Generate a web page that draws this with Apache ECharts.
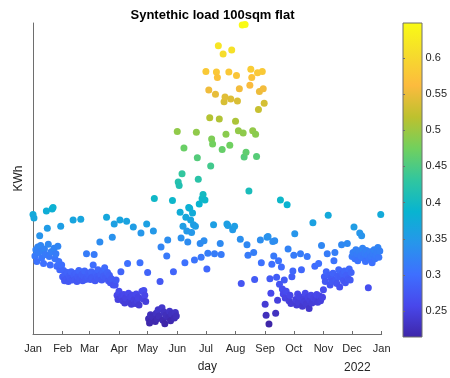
<!DOCTYPE html>
<html>
<head>
<meta charset="utf-8">
<script src="https://cdn.jsdelivr.net/npm/echarts@6/dist/echarts.min.js"></script>
<style>
html,body{margin:0;padding:0;background:#fff;}
#c{width:450px;height:378px;}
</style>
</head>
<body>
<div id="c"></div>
<script>
// Day of year 2021 (0 = 1 Jan) and daily load in KWh
const days = [
0,1,2,3,4,5,6,7,8,9,10,11,12,13,14,15,16,17,18,19,20,21,22,23,24,25,26,27,28,29,30,
31,32,33,34,35,36,37,38,39,40,41,42,43,44,45,46,47,48,49,50,51,52,53,54,55,56,57,58,
59,60,61,62,63,64,65,66,67,68,69,70,71,72,73,74,75,76,77,78,79,80,81,82,83,84,85,86,87,88,89,
90,91,92,93,94,95,96,97,98,99,100,101,102,103,104,105,106,107,108,109,110,111,112,113,114,115,116,117,118,119,
120,121,122,123,124,125,126,127,128,129,130,131,132,133,134,135,136,137,138,139,140,141,142,143,144,145,146,147,148,149,150,
151,152,153,154,155,156,157,158,159,160,161,162,163,164,165,166,167,168,169,170,171,172,173,174,175,176,177,178,179,180,
181,182,183,184,185,186,187,188,189,190,191,192,193,194,195,196,197,198,199,200,201,202,203,204,205,206,207,208,209,211,
212,213,214,215,216,217,218,219,220,221,222,223,224,225,226,227,228,229,230,231,232,233,234,235,236,237,238,239,240,241,242,
243,244,245,246,247,248,249,250,251,252,253,254,255,256,257,258,259,260,261,262,263,264,265,266,267,268,269,270,271,272,
273,274,275,276,277,278,279,280,281,282,283,284,285,286,287,288,289,290,291,292,293,294,295,296,297,298,299,300,301,302,303,
304,305,306,307,308,309,310,311,312,313,314,315,316,317,318,319,320,321,322,323,324,325,326,327,328,329,330,331,332,333,
334,335,336,337,338,339,340,341,342,343,344,345,346,347,348,349,350,351,352,353,354,355,356,357,358,359,360,361,362,363,364
];
const kwh = [
0.373,0.368,0.313,0.322,0.305,0.326,0.318,0.342,0.328,0.310,0.320,0.302,0.323,0.315,0.378,0.353,0.330,0.312,0.300,0.319,0.381,0.383,0.324,0.309,0.316,0.298,0.327,0.305,0.293,0.356,0.300,
0.283,0.292,0.277,0.286,0.280,0.289,0.276,0.284,0.281,0.290,0.278,0.365,0.285,0.279,0.288,0.276,0.283,0.292,0.280,0.366,0.286,0.277,0.284,0.291,0.279,0.316,0.283,0.288,
0.285,0.279,0.290,0.282,0.300,0.315,0.277,0.288,0.283,0.293,0.280,0.333,0.286,0.278,0.291,0.284,0.296,0.281,0.369,0.289,0.277,0.285,0.274,0.280,0.340,0.271,0.359,0.271,0.278,0.256,0.250,
0.262,0.365,0.290,0.255,0.248,0.257,0.245,0.252,0.363,0.302,0.259,0.246,0.254,0.243,0.256,0.355,0.250,0.244,0.258,0.248,0.253,0.242,0.303,0.346,0.262,0.251,0.263,0.256,0.247,0.359,
0.289,0.222,0.216,0.228,0.219,0.225,0.349,0.396,0.218,0.230,0.222,0.235,0.226,0.276,0.326,0.238,0.220,0.232,0.215,0.227,0.313,0.336,0.224,0.233,0.219,0.229,0.393,0.290,0.223,0.231,0.226,
0.493,0.420,0.415,0.376,0.339,0.432,0.356,0.469,0.303,0.369,0.349,0.333,0.383,0.382,0.365,0.347,0.375,0.358,0.307,0.356,0.492,0.455,0.424,0.388,0.331,0.311,0.396,0.402,0.335,0.394,
0.580,0.294,0.317,0.553,0.513,0.443,0.482,0.475,0.358,0.316,0.547,0.579,0.571,0.617,0.511,0.331,0.315,0.467,0.605,0.536,0.543,0.489,0.359,0.357,0.579,0.473,0.540,0.611,0.351,0.356,
0.508,0.574,0.537,0.494,0.555,0.337,0.273,0.647,0.491,0.456,0.648,0.463,0.329,0.314,0.407,0.560,0.583,0.571,0.494,0.318,0.279,0.489,0.457,0.578,0.525,0.551,0.336,0.303,0.580,0.555,0.534,
0.243,0.227,0.340,0.341,0.2145,0.280,0.259,0.301,0.334,0.313,0.335,0.230,0.282,0.249,0.306,0.272,0.394,0.297,0.265,0.258,0.278,0.252,0.262,0.387,0.323,0.248,0.256,0.244,0.283,0.291,
0.314,0.345,0.250,0.242,0.258,0.246,0.254,0.316,0.293,0.240,0.251,0.247,0.259,0.243,0.312,0.253,0.237,0.249,0.256,0.245,0.361,0.252,0.298,0.250,0.257,0.246,0.302,0.255,0.248,0.328,0.253,
0.264,0.283,0.276,0.290,0.316,0.372,0.285,0.271,0.281,0.276,0.288,0.306,0.318,0.279,0.273,0.284,0.293,0.268,0.282,0.329,0.287,0.277,0.291,0.274,0.285,0.331,0.280,0.294,0.278,0.289,
0.312,0.318,0.355,0.309,0.322,0.315,0.306,0.320,0.346,0.313,0.342,0.324,0.310,0.317,0.305,0.321,0.314,0.267,0.308,0.319,0.312,0.303,0.316,0.322,0.309,0.314,0.318,0.325,0.311,0.320,0.373
];
const monthStarts = [0,31,59,90,120,151,181,212,243,273,304,334,365];
const monthNames = ['Jan','Feb','Mar','Apr','May','Jun','Jul','Aug','Sep','Oct','Nov','Dec','Jan'];
const colorTicks = [0.25,0.3,0.35,0.4,0.45,0.5,0.55,0.6];
const parula = ['#3e26a8','#4847eb','#3e6fff','#2796eb','#08b4d0','#31c69f','#71d05e','#bdc12e','#fcbb3e','#f6dc2c','#f9fb14'];

const cMin = Math.min(...kwh), cMax = Math.max(...kwh);
const points = days.map((d,i)=>[d,kwh[i]]);
const FONT = 'Liberation Sans, Arial, Helvetica, sans-serif';
const TXT = '#262626';
const AX = '#6e6e6e';

const chart = echarts.init(document.getElementById('c'), null, {renderer:'canvas'});
chart.setOption({
  animation:false,
  backgroundColor:'#fff',
  title:{text:'Syntethic load 100sqm flat', left:207.5, top:4, textAlign:'center',
    textStyle:{fontFamily:FONT,fontSize:13,fontWeight:'bold',color:'#000'}},
  grid:[
    {left:33, top:23, width:348.7, height:314, containLabel:false},
    {left:403, top:23, width:19, height:314, containLabel:false}
  ],
  xAxis:[
    {type:'value', gridIndex:0, min:0, max:365,
     name:'day', nameLocation:'middle', nameGap:27,
     nameTextStyle:{fontFamily:FONT,fontSize:12,color:TXT},
     axisLine:{show:true,lineStyle:{color:AX,width:1}},
     axisTick:{show:true,inside:true,length:3,customValues:monthStarts,lineStyle:{color:AX}},
     axisLabel:{show:true,customValues:monthStarts,margin:9,fontFamily:FONT,fontSize:11,color:TXT,
       formatter:(v)=>monthNames[monthStarts.indexOf(Math.round(v))] || ''},
     splitLine:{show:false}},
    {type:'value', gridIndex:1, min:0, max:1, show:false}
  ],
  yAxis:[
    {type:'value', gridIndex:0, min:0.2, max:0.65,
     name:'KWh', nameLocation:'middle', nameGap:8, nameRotate:90,
     nameTextStyle:{fontFamily:FONT,fontSize:12,color:TXT},
     axisLine:{show:true,lineStyle:{color:AX,width:1}},
     axisTick:{show:false}, axisLabel:{show:false}, splitLine:{show:false}},
    {type:'value', gridIndex:1, min:cMin, max:cMax, position:'right',
     axisLine:{show:false},
     axisTick:{show:true,inside:false,length:2,customValues:colorTicks,lineStyle:{color:AX}},
     axisLabel:{show:true,customValues:colorTicks,margin:5,fontFamily:FONT,fontSize:11,color:TXT,
       formatter:(v)=>String(Math.round(v*100)/100)},
     splitLine:{show:false}}
  ],
  visualMap:{type:'continuous', show:false, min:cMin, max:cMax, dimension:1, seriesIndex:0,
    inRange:{color:parula}},
  graphic:[
    {type:'rect', z:-1, shape:{x:403,y:23,width:19,height:314},
     style:{fill:new echarts.graphic.LinearGradient(0,1,0,0,
        parula.map((c,i)=>({offset:i/(parula.length-1),color:c}))),
        stroke:AX, lineWidth:1}},
    {type:'text', left:344, top:362,
     style:{text:'2022', fontFamily:FONT, fontSize:12, fill:TXT}}
  ],
  series:[
    {type:'scatter', xAxisIndex:0, yAxisIndex:0, data:points, symbol:'circle', symbolSize:7,
     itemStyle:{opacity:1}, emphasis:{disabled:true}}
  ]
});
</script>
</body>
</html>
